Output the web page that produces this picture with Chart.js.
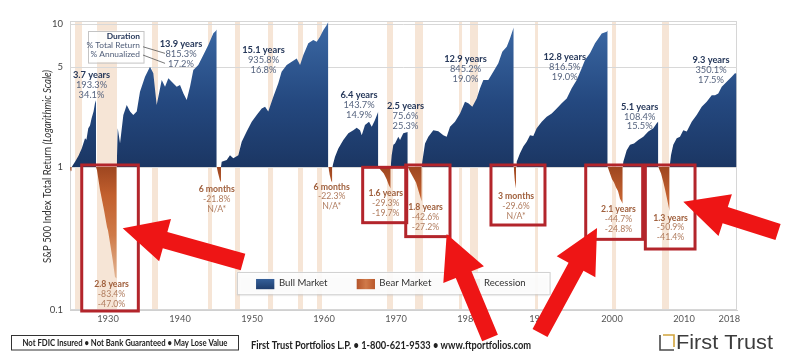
<!DOCTYPE html>
<html><head><meta charset="utf-8">
<script src="https://cdn.jsdelivr.net/npm/chart.js@4.4.0/dist/chart.umd.min.js"></script>
<style>html,body{margin:0;padding:0;background:#fff;}canvas{display:block;}</style>
</head><body>
<canvas id="c" width="793" height="364"></canvas>
<script>
// ---------- axis ticks ----------
const xTickValues = [1930,1940,1950,1960,1970,1980,1990,2000,2010,2016.3];
const xTickLabels = ['1930','1940','1950','1960','1970','1980','1990','2000','2010','2018'];
const yTickValues = [0.1,1,5,10];
const yTickLabels = ['0.1','1','5','10'];

// ---------- recessions ----------
const recessionStart = [1925.42,1928.47,1936.11,1943.89,1947.64,1952.22,1956.39,1959.03,1968.75,1972.64,1978.75,1980.28,1989.31,2000.0,2006.94];
const recessionEnd   = [1926.39,1931.25,1936.94,1944.44,1948.33,1952.92,1957.08,1959.72,1969.58,1973.75,1979.17,1981.39,1989.72,2000.56,2007.92];

// ---------- bull markets (null separates cycles) ----------
const bullYears = [
1924.96,1925.42,1925.9,1926.35,1926.81,1927.0,1927.26,1927.5,1927.72,1928.0,1928.19,1928.33, null,
1931.21,1931.35,1931.67,1932.13,1932.6,1933.06,1933.51,1933.99,1934.44,1935.14,1935.83,1936.29,1936.76,1937.13,1937.46,1937.92,1938.38,1938.85,1939.54,1940.0,1940.46,1940.93,1941.39,1941.85,1942.54,1943.24,1943.93,1944.63,1944.96,1945.1, null,
1945.69,1945.79,1946.49,1946.94,1947.4,1948.1,1948.57,1949.26,1949.96,1950.65,1951.35,1951.81,1952.26,1952.96,1953.65,1954.11,1954.82,1955.51,1956.21,1956.67,1957.13,1957.82,1958.51,1958.99,1959.44,1959.9,1960.38,1960.6, null,
1961.15,1961.53,1961.99,1962.68,1963.38,1964.07,1964.54,1965.0,1965.24,1965.69,1966.25,1966.63,1967.08,1967.54, null,
1969.26,1969.4,1969.63,1969.86,1970.32,1970.56,1971.01,1971.63, null,
1973.57,1973.65,1974.03,1974.49,1975.18,1975.88,1976.57,1977.04,1977.5,1978.19,1978.89,1979.58,1980.04,1980.6,1981.21,1981.67,1982.13,1982.82,1983.51,1984.21,1984.76,1985.38,1985.83,1986.21,1986.35, null,
1986.67,1986.76,1987.22,1987.68,1988.15,1988.61,1989.07,1989.54,1990.24,1990.93,1991.63,1992.32,1993.01,1993.71,1994.4,1995.1,1995.79,1996.25,1996.94,1997.64,1998.1,1998.57,1999.26,1999.4, null,
2001.49,2001.57,2002.04,2002.5,2003.06,2003.65,2004.35,2005.04,2005.74,2006.21,2006.43, null,
2008.0,2008.19,2008.51,2008.99,2009.44,2009.9,2010.38,2011.07,2011.76,2012.46,2013.15,2013.85,2014.31,2014.76,2015.24,2015.93,2016.63,2017.08,2017.29
];
const bullValues = [
1.0,1.09,1.2,1.35,1.59,1.55,1.87,1.95,2.19,2.45,2.79,2.93, null,
1.0,1.865,1.465,2.31,2.71,2.44,2.31,2.44,3.36,4.28,5.03,4.52,2.71,3.36,4.06,3.64,4.17,3.95,3.64,3.74,3.28,2.94,3.64,4.77,5.17,6.07,7.13,8.61,8.93,9.15, null,
1.0,1.09,1.12,1.21,1.15,1.21,1.5,1.77,2.07,2.31,2.57,2.64,2.44,3.1,3.85,4.64,5.17,5.45,5.75,5.17,6.07,7.33,7.72,7.52,8.15,9.06,9.84,10.36, null,
1.0,1.18,1.35,1.545,1.72,1.81,1.88,1.81,1.67,1.97,2.07,1.91,2.13,2.44, null,
1.0,1.21,1.43,1.46,1.63,1.545,1.72,1.756, null,
1.0,1.09,1.46,1.63,1.81,1.78,1.67,1.63,1.91,2.07,2.37,2.86,2.79,2.64,3.02,3.55,4.06,4.06,4.64,5.31,6.4,6.94,7.92,9.06,9.45, null,
1.0,1.09,1.25,1.39,1.5,1.67,1.65,1.87,2.07,2.25,2.37,2.57,2.79,3.02,3.55,4.06,4.9,5.6,6.25,7.33,7.92,8.6,8.84,9.0, null,
1.0,1.09,1.31,1.43,1.46,1.545,1.63,1.77,1.87,2.02,2.084, null,
1.0,1.21,1.43,1.59,1.63,1.81,1.77,2.07,2.31,2.64,2.86,3.18,3.18,3.27,3.64,3.95,4.28,4.52,4.5
];

// ---------- bear markets ----------
const bearYears = [
1924.74,1924.85,1924.96, null,
1928.33,1928.47,1928.89,1929.44,1929.86,1930.0,1930.28,1930.65,1930.97,1931.21, null,
1945.1,1945.3,1945.5,1945.69, null,
1960.6,1960.8,1961.0,1961.15, null,
1967.54,1967.9,1968.3,1968.7,1969.0,1969.26, null,
1971.63,1971.94,1972.36,1972.78,1973.06,1973.33,1973.57, null,
1986.35,1986.5,1986.67, null,
1999.4,1999.72,2000.0,2000.28,2000.56,2000.83,2001.11,2001.49, null,
2006.43,2006.81,2007.08,2007.36,2007.64,2008.0
];
const bearValues = [
0.96,0.93,0.95, null,
1.0,0.95,0.69,0.5,0.38,0.36,0.294,0.224,0.17,0.166, null,
1.0,0.9,0.82,0.782, null,
1.0,0.88,0.8,0.777, null,
1.0,0.95,0.9,0.82,0.75,0.707, null,
1.0,0.93,0.85,0.78,0.7,0.63,0.574, null,
1.0,0.8,0.704, null,
1.0,0.9,0.82,0.78,0.72,0.68,0.6,0.553, null,
1.0,0.9,0.8,0.7,0.6,0.491
];

// ---------- annotations ----------
const bullLabelYears  = [1927.71,1940.14,1951.60,1964.86,1971.32,1979.65,1993.43,2003.85,2013.75];
const bullLabelValues = [4.40,7.24,6.58,3.19,2.67,5.66,5.85,2.64,5.60];
const bullDurations = ['3.7 years','13.9 years','15.1 years','6.4 years','2.5 years','12.9 years','12.8 years','5.1 years','9.3 years'];
const bullTotals    = ['193.3%','815.3%','935.8%','143.7%','75.6%','845.2%','816.5%','108.4%','350.1%'];
const bullAnnual    = ['34.1%','17.2%','16.8%','14.9%','25.3%','19.0%','19.0%','15.5%','17.5%'];

const bearLabelYears  = [1930.49,1945.10,1961.07,1968.58,1974.10,1986.67,2000.90,2008.13];
const bearLabelValues = [0.151,0.698,0.728,0.655,0.523,0.627,0.509,0.442];
const bearDurations = ['2.8 years','6 months','6 months','1.6 years','1.8 years','3 months','2.1 years','1.3 years'];
const bearTotals    = ['-83.4%','-21.8%','-22.3%','-29.3%','-42.6%','-29.6%','-44.7%','-50.9%'];
const bearAnnual    = ['-47.0%','N/A*','N/A*','-19.7%','-27.2%','N/A*','-24.8%','-41.4%'];

const boxYearsFrom = [1926.35,1965.37,1971.35,1983.19,1996.35,2004.63];
const boxYearsTo   = [1934.21,1971.49,1977.50,1990.69,2004.26,2011.53];
const boxTop       = [1.033,0.995,1.033,1.033,1.033,1.033];
const boxBottom    = [0.0984,0.408,0.326,0.393,0.312,0.267];

const arrowTailYears  = [1948.75,1983.06,1990.0,2023.06];
const arrowTailValues = [0.2168,0.0637,0.069,0.3512];
const arrowTipYears   = [1932.04,1977.04,1997.92,2009.90];
const arrowTipValues  = [0.3726,0.340,0.3744,0.5719];

const keyLines = ['Duration','% Total Return','% Annualized'];
const legendLabels = ['Bull Market','Bear Market','Recession'];

// ---------- build points ----------
function pts(xs, ys){
  const out=[]; let last=null;
  xs.forEach((x,i)=>{ if(x===null){ out.push({x:last+0.001,y:null}); } else { out.push({x:x,y:ys[i]}); last=x; } });
  return out;
}

function bullGrad(ctx){
  const ch=ctx.chart, a=ch.chartArea; if(!a) return '#24477d';
  const y=ch.scales.y; const g=ch.ctx.createLinearGradient(0,y.getPixelForValue(10),0,y.getPixelForValue(1));
  g.addColorStop(0,'#3b68a4'); g.addColorStop(0.55,'#24487f'); g.addColorStop(1,'#1b3663');
  return g;
}
function bearGrad(ctx){
  const ch=ctx.chart, a=ch.chartArea; if(!a) return '#c0602f';
  const y=ch.scales.y; const g=ch.ctx.createLinearGradient(0,y.getPixelForValue(1),0,y.getPixelForValue(0.16));
  g.addColorStop(0,'#9e4620'); g.addColorStop(0.25,'#c2602e'); g.addColorStop(0.6,'#cf7a48'); g.addColorStop(1,'#e2b797');
  return g;
}

function fitText(c, text, x, y, targetW, font, align){
  c.font=font; const w=c.measureText(text).width; const s=targetW/w;
  c.save(); c.translate(x,y); c.scale(s,1); c.textAlign=align; c.fillText(text,0,0); c.restore();
}

function drawArrow(c, tx, ty, hx, hy){
  const dx=hx-tx, dy=hy-ty, len=Math.hypot(dx,dy), ux=dx/len, uy=dy/len, nx=-uy, ny=ux;
  const HL=44, HW=22, SW=8.5;
  const bx=hx-ux*HL, by=hy-uy*HL;
  c.beginPath();
  c.moveTo(tx+nx*SW,ty+ny*SW); c.lineTo(bx+nx*SW,by+ny*SW); c.lineTo(bx+nx*HW,by+ny*HW);
  c.lineTo(hx,hy); c.lineTo(bx-nx*HW,by-ny*HW); c.lineTo(bx-nx*SW,by-ny*SW); c.lineTo(tx-nx*SW,ty-ny*SW);
  c.closePath(); c.fill();
}

const deco = {
  id:'deco',
  beforeDraw(chart){
    const c=chart.ctx, a=chart.chartArea, xs=chart.scales.x;
    c.save();
    c.fillStyle='#fff'; c.fillRect(0,0,chart.width,chart.height);
    c.fillStyle='#f6e5d6';
    recessionStart.forEach((s,i)=>{
      const x1=xs.getPixelForValue(s), x2=xs.getPixelForValue(recessionEnd[i]);
      c.fillRect(x1,a.top,x2-x1,a.bottom-a.top);
    });
    c.strokeStyle='#d6d6d6'; c.lineWidth=1;
    c.strokeRect(a.left+0.5,a.top+0.5,a.right-a.left-1,a.bottom-a.top-1);
    c.restore();
  },
  afterDraw(chart){
    const c=chart.ctx, a=chart.chartArea, xs=chart.scales.x, ys=chart.scales.y;
    const X=v=>xs.getPixelForValue(v), Y=v=>ys.getPixelForValue(v);
    c.save();
    c.textBaseline='middle';

    // key box
    const kx1=X(1927.18), kx2=X(1934.89), ky1=Y(8.974), ky2=Y(5.395);
    c.fillStyle='rgba(255,255,255,0.9)'; c.fillRect(kx1,ky1,kx2-kx1,ky2-ky1);
    c.strokeStyle='#c4c4c4'; c.lineWidth=1; c.strokeRect(Math.round(kx1)+0.5,Math.round(ky1)+0.5,kx2-kx1,ky2-ky1);
    c.textAlign='right';
    keyLines.forEach((t,i)=>{
      c.font=(i===0?'bold ':'')+'8.4px Lato'; c.fillStyle=i===0?'#26385a':'#4f5d78';
      c.fillText(t,X(1934.44),Y(8.147)+i*8.65);
    });
    c.strokeStyle='#555'; c.lineWidth=0.8;
    c.beginPath(); c.moveTo(X(1934.86),Y(6.934)); c.lineTo(X(1937.92),Y(6.237));
    c.moveTo(X(1934.86),Y(6.067)); c.lineTo(X(1937.92),Y(5.309)); c.stroke();

    // bull labels
    c.textAlign='center';
    bullLabelYears.forEach((yr,i)=>{
      const x=X(yr), y=Y(bullLabelValues[i]);
      c.font='bold 9.3px Lato'; c.fillStyle='#26385a'; c.fillText(bullDurations[i],x,y);
      c.font='9.3px Lato'; c.fillStyle='#56647f';
      c.fillText(bullTotals[i],x,y+9.8); c.fillText(bullAnnual[i],x,y+19.6);
    });
    // bear labels
    bearLabelYears.forEach((yr,i)=>{
      const x=X(yr), y=Y(bearLabelValues[i]);
      c.font='bold 8.7px Lato'; c.fillStyle='#a0603d'; c.fillText(bearDurations[i],x,y);
      c.font='8.7px Lato'; c.fillStyle='#b07c5e';
      c.fillText(bearTotals[i],x,y+9.9); c.fillText(bearAnnual[i],x,y+19.8);
    });

    // legend
    const lx1=X(1947.87), lx2=X(1991.29), ly1=Y(0.1853), ly2=Y(0.1294);
    c.save(); c.shadowColor='rgba(0,0,0,0.18)'; c.shadowBlur=3; c.shadowOffsetY=1;
    c.fillStyle='rgba(255,255,255,0.9)'; c.fillRect(lx1,ly1,lx2-lx1,ly2-ly1); c.restore();
    c.strokeStyle='#d2d2d2'; c.lineWidth=1; c.strokeRect(Math.round(lx1)+0.5,Math.round(ly1)+0.5,lx2-lx1,ly2-ly1);
    const sy1=Y(0.1648), sy2=Y(0.1398);
    let g=c.createLinearGradient(0,sy1,0,sy2); g.addColorStop(0,'#35609a'); g.addColorStop(1,'#1f3d6d');
    c.fillStyle=g; c.fillRect(X(1950.56),sy1,X(1953.10)-X(1950.56),sy2-sy1);
    g=c.createLinearGradient(X(1964.54),0,X(1967.08),0); g.addColorStop(0,'#b4542a'); g.addColorStop(0.5,'#d07a4a'); g.addColorStop(1,'#b9582c');
    c.fillStyle=g; c.fillRect(X(1964.54),sy1,X(1967.08)-X(1964.54),sy2-sy1);
    c.fillStyle='#f4ece5'; c.fillRect(X(1980.97),sy1,X(1981.67)-X(1980.97),sy2-sy1);
    c.textAlign='left'; c.font='9.6px Lato'; c.fillStyle='#333';
    [1953.75,1967.68,1982.22].forEach((yr,i)=>c.fillText(legendLabels[i],X(yr),Y(0.1538)));

    // red boxes
    c.strokeStyle='#b3252b'; c.lineWidth=3;
    boxYearsFrom.forEach((s,i)=>{
      const x1=X(s), x2=X(boxYearsTo[i]), y1=Y(boxTop[i]), y2=Y(boxBottom[i]);
      c.strokeRect(x1,y1,x2-x1,y2-y1);
    });

    // arrows
    c.fillStyle='#ee1515';
    arrowTailYears.forEach((yr,i)=>drawArrow(c,X(yr),Y(arrowTailValues[i]),X(arrowTipYears[i]),Y(arrowTipValues[i])));

    // y-axis title
    c.save();
    c.translate(48,(a.top+a.bottom)/2+1); c.rotate(-Math.PI/2);
    const t1='S&P 500 Index Total Return ', t2='(Logarithmic Scale)';
    c.font='10.5px Lato'; const w1=c.measureText(t1).width;
    c.font='italic 10.5px Lato'; const w2=c.measureText(t2).width;
    const s=193/(w1+w2); c.scale(s,1); c.fillStyle='#333'; c.textAlign='left';
    c.font='10.5px Lato'; c.fillText(t1,-(w1+w2)/2,0);
    c.font='italic 10.5px Lato'; c.fillText(t2,-(w1+w2)/2+w1,0);
    c.restore();

    // footer
    c.strokeStyle='#333'; c.lineWidth=1; c.strokeRect(11.5,335.5,227,14.5);
    c.fillStyle='#222';
    fitText(c,'Not FDIC Insured \u2022 Not Bank Guaranteed \u2022 May Lose Value',125,343,205,'bold 9.2px Lato','center');
    fitText(c,'First Trust Portfolios L.P. \u2022 1-800-621-9533 \u2022 www.ftportfolios.com',251,345.5,280,'bold 11px Lato','left');
    // logo
    c.lineWidth=1.6; c.strokeStyle='#4a4a4a';
    c.beginPath(); c.moveTo(660,335); c.lineTo(660,350); c.lineTo(674,350); c.stroke();
    c.strokeStyle='#d1a43c';
    c.beginPath(); c.moveTo(663,335); c.lineTo(674,335); c.lineTo(674,347); c.stroke();
    c.fillStyle='#3c3c3c';
    fitText(c,'First Trust',676,343,97,'21px "Liberation Sans"','left');
    c.restore();
  }
};

new Chart(document.getElementById('c'), {
  type:'line',
  data:{datasets:[
    {label:'Bull Market', data:pts(bullYears,bullValues), fill:{value:1}, backgroundColor:bullGrad, borderWidth:0, pointRadius:0, spanGaps:false},
    {label:'Bear Market', data:pts(bearYears,bearValues), fill:{value:1}, backgroundColor:bearGrad, borderWidth:0, pointRadius:0, spanGaps:false}
  ]},
  options:{
    responsive:false, animation:false, devicePixelRatio:1,
    layout:{padding:{left:0,right:56,top:21,bottom:0}},
    plugins:{legend:{display:false}, tooltip:{enabled:false}},
    elements:{line:{tension:0, borderWidth:0}, point:{radius:0}},
    scales:{
      x:{type:'linear', min:1924.72, max:2017.36, bounds:'data',
        afterFit(s){s.height=54;},
        afterBuildTicks(s){s.ticks=xTickValues.map(v=>({value:v}));},
        ticks:{autoSkip:false, maxRotation:0, padding:3, color:'#555', font:{family:'Lato',size:9.3}, callback:(v,i)=>xTickLabels[i]},
        grid:{display:false, drawTicks:false}, border:{display:true, color:'#d0d0d0'}},
      y:{type:'logarithmic', min:0.1, max:10.5, bounds:'data',
        afterFit(s){s.width=70;},
        afterBuildTicks(s){s.ticks=yTickValues.map(v=>({value:v}));},
        ticks:{padding:7, color:'#444', font:{family:'Lato',size:9.5}, callback:(v,i)=>yTickLabels[i]},
        grid:{drawTicks:false, color:(ctx)=>ctx.tick && ctx.tick.value===0.1 ? 'rgba(0,0,0,0)' : '#d8d8d8'},
        border:{display:false}}
    }
  },
  plugins:[deco]
});
</script>
</body></html>
